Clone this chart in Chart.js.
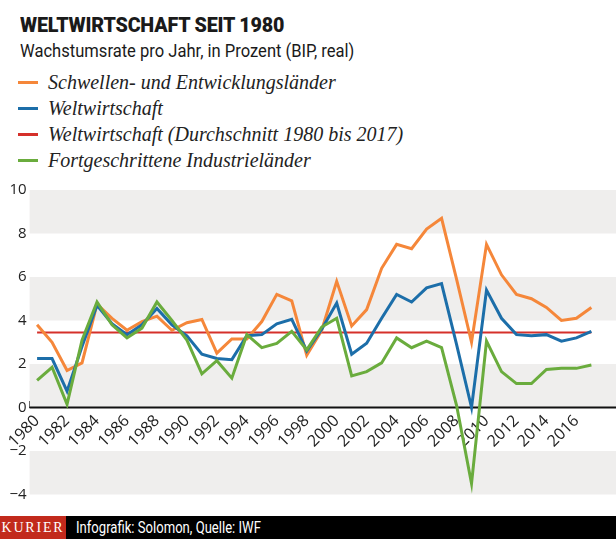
<!DOCTYPE html>
<html lang="de">
<head>
<meta charset="utf-8">
<title>Weltwirtschaft seit 1980</title>
<script src="https://cdn.jsdelivr.net/npm/chart.js@4"></script>
<style>
  html, body { margin: 0; padding: 0; background: #fff; }
  body { width: 616px; height: 539px; position: relative; overflow: hidden; font-family: Roboto, "Open Sans", sans-serif; color: #1a1a1a; }
  #titel { position: absolute; left: 20px; top: 13px; font-weight: 900; font-size: 20.5px; white-space: nowrap; transform: scaleX(0.96); transform-origin: left; letter-spacing: -0.2px; }
  #untertitel { position: absolute; left: 20px; top: 40px; font-size: 18px; white-space: nowrap; transform: scaleX(0.92); transform-origin: left; }
  #legende { position: absolute; left: 18px; top: 69px; margin: 0; padding: 0; list-style: none; }
  #legende li { height: 26px; display: flex; align-items: center; font-family: "Liberation Serif", serif; font-style: italic; font-size: 20px; color: #222; white-space: nowrap; }
  #legende .strich { display: inline-block; width: 20px; height: 3px; margin-right: 10px; }
  #grafik { position: absolute; left: 0; top: 170px; }
  #fuss { position: absolute; left: 0; top: 516px; width: 616px; height: 23px; background: #000; color: #fff; }
  #kurier { position: absolute; left: 0; top: 0; width: 66px; height: 23px; background: #c22a1c; font-family: "Liberation Serif", serif; font-size: 14px; letter-spacing: 1.8px; line-height: 23px; text-align: center; }
  #quelle { position: absolute; left: 76px; top: 0; line-height: 23px; font-size: 17px; white-space: nowrap; transform: scaleX(0.77); transform-origin: left; }
</style>
</head>
<body>
<div id="titel">WELTWIRTSCHAFT SEIT 1980</div>
<div id="untertitel">Wachstumsrate pro Jahr, in Prozent (BIP, real)</div>
<ul id="legende"></ul>
<canvas id="grafik" width="616" height="340"></canvas>
<div id="fuss"><div id="kurier">KURIER</div><div id="quelle">Infografik: Solomon, Quelle: IWF</div></div>
<script>
// Jahre 1980 bis 2017
const jahre = [1980, 1981, 1982, 1983, 1984, 1985, 1986, 1987, 1988, 1989,
  1990, 1991, 1992, 1993, 1994, 1995, 1996, 1997, 1998, 1999,
  2000, 2001, 2002, 2003, 2004, 2005, 2006, 2007, 2008, 2009,
  2010, 2011, 2012, 2013, 2014, 2015, 2016, 2017];

// Wachstumsraten in Prozent
const schwellenlaender = [3.8, 3.0, 1.7, 2.05, 4.75, 4.1, 3.55, 3.95, 4.2, 3.55,
  3.9, 4.05, 2.5, 3.15, 3.15, 3.95, 5.2, 4.9, 2.4, 3.55,
  5.8, 3.75, 4.5, 6.4, 7.5, 7.3, 8.2, 8.7, 5.9, 3.0,
  7.5, 6.1, 5.2, 5.0, 4.6, 4.0, 4.1, 4.6];
const weltwirtschaft = [2.25, 2.25, 0.75, 2.8, 4.7, 3.85, 3.35, 3.8, 4.55, 3.8,
  3.3, 2.45, 2.25, 2.2, 3.3, 3.35, 3.85, 4.05, 2.6, 3.6,
  4.8, 2.45, 2.95, 4.1, 5.2, 4.85, 5.5, 5.7, 2.9, 0.0,
  5.4, 4.1, 3.35, 3.3, 3.35, 3.05, 3.2, 3.5];
const durchschnitt = 3.45; // Durchschnitt 1980 bis 2017
const industrielaender = [1.25, 1.85, 0.15, 3.1, 4.85, 3.8, 3.2, 3.65, 4.85, 4.0,
  3.1, 1.55, 2.15, 1.35, 3.35, 2.75, 2.95, 3.5, 2.65, 3.7,
  4.1, 1.45, 1.65, 2.05, 3.2, 2.75, 3.05, 2.75, 0.1, -3.5,
  3.05, 1.65, 1.1, 1.1, 1.75, 1.8, 1.8, 1.95];

const yTicks = [-4, -2, 0, 2, 4, 6, 8, 10];

const serien = [
  { name: "Schwellen- und Entwicklungsländer", farbe: "#f5873a", daten: schwellenlaender },
  { name: "Weltwirtschaft", farbe: "#1c6ea9", daten: weltwirtschaft },
  { name: "Weltwirtschaft (Durchschnitt 1980 bis 2017)", farbe: "#d5302a", daten: jahre.map(() => durchschnitt) },
  { name: "Fortgeschrittene Industrieländer", farbe: "#6aac3d", daten: industrielaender }
];

// Legende als HTML
const legende = document.getElementById("legende");
serien.forEach(s => {
  const li = document.createElement("li");
  li.innerHTML = `<span class="strich" style="background:${s.farbe}"></span>${s.name}`;
  legende.appendChild(li);
});

// graue Streifen und Nulllinie
const streifen = {
  id: "streifen",
  beforeDatasetsDraw(chart) {
    const { ctx, chartArea, scales: { y } } = chart;
    ctx.save();
    ctx.fillStyle = "#efeeed";
    for (let k = 0; k < yTicks.length - 1; k += 2) {
      const top = y.getPixelForValue(yTicks[k + 1]);
      const bottom = y.getPixelForValue(yTicks[k]);
      ctx.fillRect(chartArea.left, top, chart.width - chartArea.left, bottom - top);
    }
    const y0 = y.getPixelForValue(0);
    ctx.strokeStyle = "#111";
    ctx.lineWidth = 2;
    ctx.beginPath();
    ctx.moveTo(chartArea.left, y0);
    ctx.lineTo(chart.width, y0);
    ctx.stroke();
    ctx.restore();
  }
};

const reihenfolge = [2, 0, 1, 3]; // Durchschnitt unten, Industrieländer oben

new Chart(document.getElementById("grafik"), {
  type: "line",
  data: {
    labels: jahre,
    datasets: serien.map((s, i) => ({
      label: s.name,
      data: s.daten,
      borderColor: s.farbe,
      borderWidth: i === 2 ? 2 : 3,
      order: -reihenfolge.indexOf(i)
    }))
  },
  options: {
    responsive: false,
    animation: false,
    layout: { padding: { top: 20, right: 8, bottom: 15.5, left: 0 } },
    plugins: { legend: { display: false }, tooltip: { enabled: false } },
    elements: {
      point: { radius: 0 },
      line: { tension: 0, borderJoinStyle: "miter", fill: false }
    },
    scales: {
      x: {
        type: "category",
        position: { y: 0 },
        offset: true,
        grid: { offset: true, drawOnChartArea: false, drawTicks: true, tickLength: -7, tickColor: "#111", lineWidth: 1.3 },
        border: { display: false },
        ticks: {
          autoSkip: false, minRotation: 45, maxRotation: 45, padding: 11,
          color: "#222", font: { family: "'Open Sans'", size: 16 },
          callback: (v, i) => (i % 2 === 0 ? String(jahre[i]) : "")
        }
      },
      y: {
        min: -4, max: 10,
        afterFit: s => { s.width = 25; },
        grid: { display: false, drawTicks: false },
        border: { display: false },
        afterBuildTicks: s => { s.ticks = yTicks.map(v => ({ value: v })); },
        ticks: {
          padding: 3, color: "#222", font: { family: "'Open Sans'", size: 15 },
          callback: v => (v < 0 ? "\u2212" + Math.abs(v) : String(v))
        }
      }
    }
  },
  plugins: [streifen]
});
</script>
</body>
</html>
